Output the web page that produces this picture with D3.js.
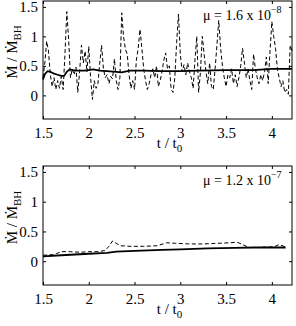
<!DOCTYPE html>
<html>
<head>
<meta charset="utf-8">
<script src="https://cdn.jsdelivr.net/npm/d3@7"></script>
<style>
  body { margin: 0; background: #fff; }
  svg { display: block; }
  text { font-family: "Liberation Serif", "DejaVu Serif", serif; fill: #000; }
</style>
</head>
<body>
<div class="chart"></div>
<script>
// top panel (mu = 1.6e-8)
var tTopDash = [1.50,1.52,1.54,1.56,1.58,1.60,1.62,1.64,1.66,1.68,1.70,1.72,1.74,1.76,1.78,1.80,1.82,1.84,1.86,1.88,
  1.90,1.92,1.94,1.96,1.98,2.00,2.02,2.04,2.06,2.08,2.10,2.12,2.14,2.16,2.18,2.20,2.22,2.24,2.26,2.28,
  2.30,2.32,2.34,2.36,2.38,2.40,2.42,2.44,2.46,2.48,2.50,2.52,2.54,2.56,2.58,2.60,2.62,2.64,2.66,2.68,
  2.70,2.72,2.74,2.76,2.78,2.80,2.82,2.84,2.86,2.88,2.90,2.92,2.94,2.96,2.98,3.00,3.02,3.04,3.06,3.08,
  3.10,3.12,3.14,3.16,3.18,3.20,3.22,3.24,3.26,3.28,3.30,3.32,3.34,3.36,3.38,3.40,3.42,3.44,3.46,3.48,
  3.50,3.52,3.54,3.56,3.58,3.60,3.62,3.64,3.66,3.68,3.70,3.72,3.74,3.76,3.78,3.80,3.82,3.84,3.86,3.88,
  3.90,3.92,3.94,3.96,3.98,4.00,4.02,4.04,4.06,4.08,4.10,4.12,4.14,4.16,4.18,4.20,4.22];
var mTopDash = [0.30,0.55,0.92,0.75,0.35,0.15,0.30,0.10,0.25,0.12,0.32,0.10,0.70,1.42,0.95,0.30,0.45,0.35,0.48,0.05,
  0.40,0.85,0.55,0.75,0.40,0.83,0.30,-0.07,0.25,0.12,0.20,0.55,0.85,0.45,0.30,0.35,0.20,0.32,0.28,0.62,
  0.25,0.10,0.30,1.40,1.00,0.78,0.70,0.35,0.12,0.25,0.10,0.60,0.80,1.12,0.80,0.45,0.25,0.10,0.20,0.35,
  0.45,0.30,0.50,0.15,0.25,0.40,0.60,0.72,0.45,0.50,0.10,0.05,0.30,0.90,1.38,0.70,0.40,0.52,0.35,0.55,
  0.40,0.30,0.12,0.60,1.00,0.05,0.40,1.00,0.70,0.40,0.20,0.55,0.15,0.10,0.45,0.85,1.27,0.80,0.50,0.30,
  0.15,0.35,0.30,0.45,0.20,0.35,0.15,0.30,0.50,0.80,0.55,0.30,0.45,0.25,0.10,0.70,0.45,0.30,0.20,0.35,
  0.25,0.40,0.65,0.20,0.75,1.25,1.00,0.80,0.45,0.30,0.15,0.25,0.05,0.10,0.02,0.85,0.75];
var tTopMean = [1.50,1.52,1.55,1.58,1.62,1.66,1.70,1.73,1.76,1.79,1.83,1.88,1.95,2.00,2.05,2.12,2.20,2.30,2.36,2.45,2.60,2.80,3.00,3.20,3.50,3.80,4.00,4.22];
var mTopMean = [0.27,0.36,0.41,0.40,0.37,0.35,0.33,0.33,0.40,0.44,0.43,0.42,0.42,0.43,0.44,0.42,0.41,0.40,0.39,0.42,0.42,0.41,0.41,0.42,0.43,0.43,0.45,0.45];

// bottom panel (mu = 1.2e-7)
var tBotDash = [1.50,1.60,1.65,1.70,1.80,1.90,2.00,2.10,2.18,2.22,2.26,2.30,2.35,2.45,2.60,2.75,2.85,2.95,3.10,3.25,3.40,3.55,3.62,3.68,3.75,3.85,3.95,4.02,4.08,4.13,4.15];
var mBotDash = [0.10,0.11,0.13,0.16,0.16,0.15,0.16,0.16,0.18,0.25,0.34,0.30,0.26,0.25,0.25,0.26,0.31,0.30,0.29,0.29,0.30,0.31,0.32,0.28,0.23,0.23,0.24,0.24,0.28,0.25,0.24];
var tBotMean = [1.50,1.70,2.00,2.20,2.30,2.50,2.80,3.00,3.30,3.60,3.80,4.00,4.15];
var mBotMean = [0.08,0.10,0.125,0.14,0.16,0.175,0.19,0.20,0.215,0.225,0.23,0.23,0.23];

var xTicks = [1.5, 2, 2.5, 3, 3.5, 4];
var yTicks = [0, 0.5, 1, 1.5];

var W = 296, H = 326;
var svg = d3.select('.chart').append('svg')
  .attr('width', W)
  .attr('height', H);

var panels = [
  { top: 1, bottom: 119, dash: [tTopDash, mTopDash], mean: [tTopMean, mTopMean], mu: '1.6', exp: '\u22128' },
  { top: 166, bottom: 285, dash: [tBotDash, mBotDash], mean: [tBotMean, mBotMean], mu: '1.2', exp: '\u22127' }
];

var left = 43, right = 292;
var serif = '"Liberation Serif", "DejaVu Serif", serif';

panels.forEach(function (p) {
  var x = d3.scaleLinear().domain([1.5, 4.22]).range([left, right]);
  var y = d3.scaleLinear().domain([-0.4, 1.6]).range([p.bottom, p.top]);
  var g = svg.append('g');

  var line = d3.line().x(d => x(d[0])).y(d => y(d[1]));

  // dashed = instantaneous rate, solid = running mean
  g.append('path')
    .attr('d', line(d3.zip(p.dash[0], p.dash[1])))
    .attr('fill', 'none')
    .attr('stroke', '#000')
    .attr('stroke-width', 1)
    .attr('stroke-dasharray', '4,2.5');

  g.append('path')
    .attr('d', line(d3.zip(p.mean[0], p.mean[1])))
    .attr('fill', 'none')
    .attr('stroke', '#000')
    .attr('stroke-width', 1.8);

  // axes with inward ticks on all sides
  var axB = g.append('g').attr('transform', `translate(0,${p.bottom})`)
    .call(d3.axisBottom(x).tickValues(xTicks).tickSizeInner(-3).tickSizeOuter(0).tickPadding(8).tickFormat(d3.format('')));
  var axT = g.append('g').attr('transform', `translate(0,${p.top})`)
    .call(d3.axisTop(x).tickValues(xTicks).tickSizeInner(-3).tickSizeOuter(0).tickFormat(''));
  var axL = g.append('g').attr('transform', `translate(${left},0)`)
    .call(d3.axisLeft(y).tickValues(yTicks).tickSizeInner(-3).tickSizeOuter(0).tickPadding(5).tickFormat(d3.format('')));
  var axR = g.append('g').attr('transform', `translate(${right},0)`)
    .call(d3.axisRight(y).tickValues(yTicks).tickSizeInner(-3).tickSizeOuter(0).tickFormat(''));

  [axB, axT, axL, axR].forEach(function (a) {
    a.attr('font-family', serif);
    a.select('.domain').remove();
    a.selectAll('line').attr('stroke', '#000');
    a.selectAll('text').style('font-family', serif).style('font-size', '15px').attr('fill', '#000');
  });
  axB.selectAll('text').attr('dy', '0.71em');

  g.append('rect')
    .attr('x', left).attr('y', p.top)
    .attr('width', right - left).attr('height', p.bottom - p.top)
    .attr('fill', 'none').attr('stroke', '#000').attr('stroke-width', 1);

  // x label
  var xl = g.append('text')
    .attr('x', (left + right) / 2 + 2)
    .attr('y', p.bottom + 29)
    .attr('text-anchor', 'middle')
    .style('font-size', '15px');
  xl.append('tspan').text('t / t');
  xl.append('tspan').attr('dy', 4).style('font-size', '11px').text('0');

  // y label
  var yl = g.append('text')
    .attr('transform', `translate(17,${(p.top + p.bottom) / 2 - 8}) rotate(-90)`)
    .attr('text-anchor', 'middle')
    .style('font-size', '15px');
  yl.append('tspan').text('\u1E40 / \u1E40');
  yl.append('tspan').attr('dy', 4).style('font-size', '11px').text('BH');

  // annotation
  var an = g.append('text')
    .attr('x', 203)
    .attr('y', p.top + 19)
    .style('font-size', '14px');
  an.append('tspan').text('\u03BC = ' + p.mu + ' x 10');
  an.append('tspan').attr('dy', -7).style('font-size', '10px').text(p.exp);
});
</script>
</body>
</html>
